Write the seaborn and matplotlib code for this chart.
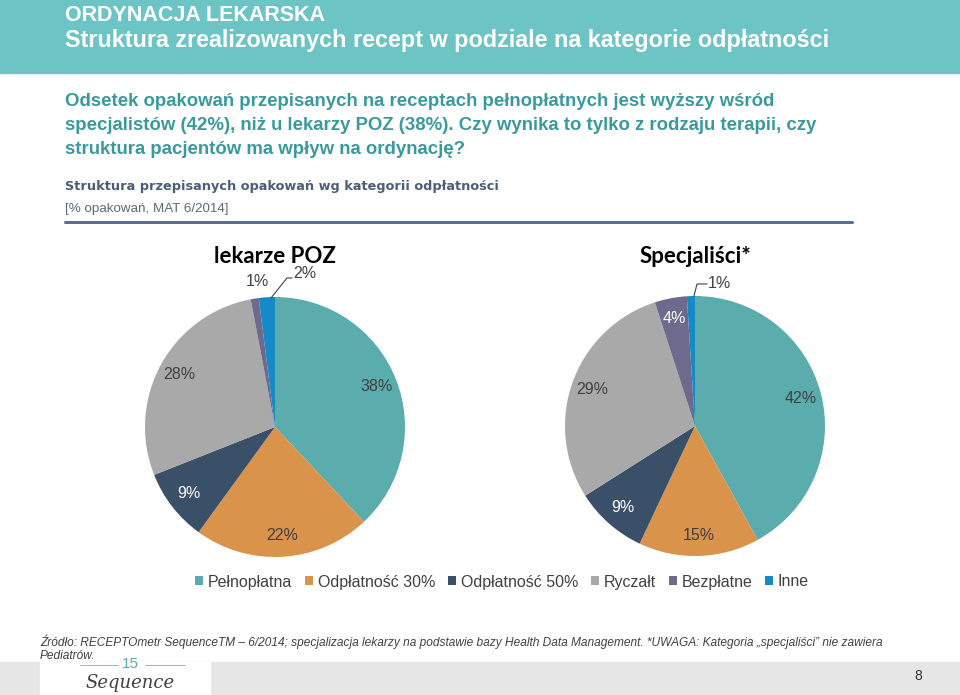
import numpy as np
import seaborn as sns
from matplotlib import pyplot as plt
from matplotlib.patches import Rectangle
from matplotlib.lines import Line2D

# data
categories = ["Pełnopłatna", "Odpłatność 30%", "Odpłatność 50%", "Ryczałt", "Bezpłatne", "Inne"]
poz_values = [38, 22, 9, 28, 1, 2]
spec_values = [42, 15, 9, 29, 4, 1]
pie_titles = ["lekarze POZ", "Specjaliści*"]

colors = sns.color_palette(["#5BACAD", "#D9934A", "#3A5068", "#A9A9A9", "#6D6A8E", "#1689C7"])
label_colors = ["#404040", "#404040", "white", "#404040", "white", "#404040"]

sns.set_theme(style="white")
plt.rcParams["font.family"] = ["Liberation Sans", "DejaVu Sans"]

W, H = 960, 695
fig = plt.figure(figsize=(W / 100, H / 100), dpi=100)


def fx(px):
    return px / W


def fy(py):
    return 1 - py / H


# header band
fig.patches.append(Rectangle((0, fy(73)), 1, 73 / H, transform=fig.transFigure,
                             color="#6CC4C4", zorder=0))
fig.text(fx(65), fy(21), "ORDYNACJA LEKARSKA", color="white", fontsize=15.5,
         fontweight="bold", va="baseline", ha="left")
fig.text(fx(65), fy(47), "Struktura zrealizowanych recept w podziale na kategorie odpłatności",
         color="white", fontsize=16.8, fontweight="bold", va="baseline", ha="left")

# lead text
lead = ["Odsetek opakowań przepisanych na receptach pełnopłatnych jest wyższy wśród",
        "specjalistów (42%), niż u lekarzy POZ (38%). Czy wynika to tylko z rodzaju terapii, czy",
        "struktura pacjentów ma wpływ na ordynację?"]
for i, line in enumerate(lead):
    fig.text(fx(65), fy(102 + i * 23.5), line, color="#3A9A9B", fontsize=13.4,
             fontweight="bold", va="center", ha="left")

fig.text(fx(65), fy(187), "Struktura przepisanych opakowań wg kategorii odpłatności",
         color="#4A5E78", fontsize=9.3, fontweight="bold", family="DejaVu Sans",
         va="center", ha="left")
fig.text(fx(65), fy(209), "[% opakowań, MAT 6/2014]", color="#5A6A7A", fontsize=9.6,
         va="center", ha="left")
fig.lines.append(Line2D([fx(65), fx(852)], [fy(222), fy(222)], transform=fig.transFigure,
                        color="#5A7090", linewidth=2.2))


def draw_pie(cx, cy, r, values, title, outside):
    ax = fig.add_axes([fx(cx - r), fy(cy + r), 2 * r / W, 2 * r / H])
    wedges, texts = ax.pie(values, colors=colors, startangle=90, counterclock=False,
                           wedgeprops=dict(linewidth=0))
    ax.set_xlim(-1, 1)
    ax.set_ylim(-1, 1)
    ax.set_aspect("equal")
    ax.axis("off")
    for i, (w, v, c) in enumerate(zip(wedges, values, label_colors)):
        ang = np.deg2rad((w.theta1 + w.theta2) / 2)
        if i in outside:
            continue
        ax.text(0.84 * np.cos(ang), 0.84 * np.sin(ang), f"{v}%", color=c,
                fontsize=11.5, ha="center", va="center")
    for i, (tx, ty, line) in outside.items():
        ax.text(tx, ty, f"{values[i]}%", color="#404040", fontsize=11.5, ha="center",
                va="center", clip_on=False)
        if line is not None:
            ax.plot(line[0], line[1], color="#404040", linewidth=0.8, clip_on=False)
    fig.text(fx(cx), fy(256), title, fontsize=16, fontweight="bold", color="black",
             family=["Lato", "DejaVu Sans"], ha="center", va="center")
    return wedges


r = 130
# left pie: outside labels for Bezpłatne and Inne
wl = draw_pie(275, 427, r, poz_values, pie_titles[0],
              {4: ((257 - 275) / r, (427 - 282) / r, None),
               5: ((305 - 275) / r, (427 - 273) / r,
                   ([(271 - 275) / r, (287 - 275) / r, (292 - 275) / r],
                    [(427 - 298) / r, (427 - 278) / r, (427 - 278) / r]))})
# right pie: outside label for Inne
wr = draw_pie(695, 426, r, spec_values, pie_titles[1],
              {5: ((719 - 695) / r, (426 - 283) / r,
                   ([(694 - 695) / r, (697 - 695) / r, (707 - 695) / r],
                    [(426 - 296) / r, (426 - 284) / r, (426 - 284) / r]))})

# legend
fig.legend(wl, categories, loc="center", bbox_to_anchor=(fx(502), fy(582)), ncol=6,
           frameon=False, fontsize=11.5, handlelength=0.5, handleheight=0.5,
           handletextpad=0.3, columnspacing=0.8, labelcolor="#404040")

# footer
fig.text(fx(40), fy(642), "Źródło: RECEPTOmetr SequenceTM – 6/2014; specjalizacja lekarzy na podstawie bazy "
         "Health Data Management. *UWAGA: Kategoria „specjaliści” nie zawiera",
         fontsize=8.6, style="italic", color="#404040", va="center", ha="left")
fig.text(fx(40), fy(656), "Pediatrów.", fontsize=8.6, style="italic", color="#404040",
         va="center", ha="left")
fig.patches.append(Rectangle((0, 0), 1, 33 / H, transform=fig.transFigure,
                             color="#E6E6E6", zorder=0))
fig.patches.append(Rectangle((fx(40), 0), 170 / W, 33 / H, transform=fig.transFigure,
                             color="white", zorder=0))
fig.text(fx(130), fy(664), "15", fontsize=11, color="#5BACAD", ha="center", va="center")
for x0, x1 in [(80, 118), (145, 185)]:
    fig.lines.append(Line2D([fx(x0), fx(x1)], [fy(665), fy(665)], transform=fig.transFigure,
                            color="#A0A0A0", linewidth=0.6))
fig.text(fx(130), fy(683), "Sequence", fontsize=13, style="italic", color="#404040",
         family="DejaVu Serif", ha="center", va="center")
fig.text(fx(918), fy(676), "8", fontsize=10, color="#333333", ha="center", va="center")

fig.savefig("out.png", dpi=100)
